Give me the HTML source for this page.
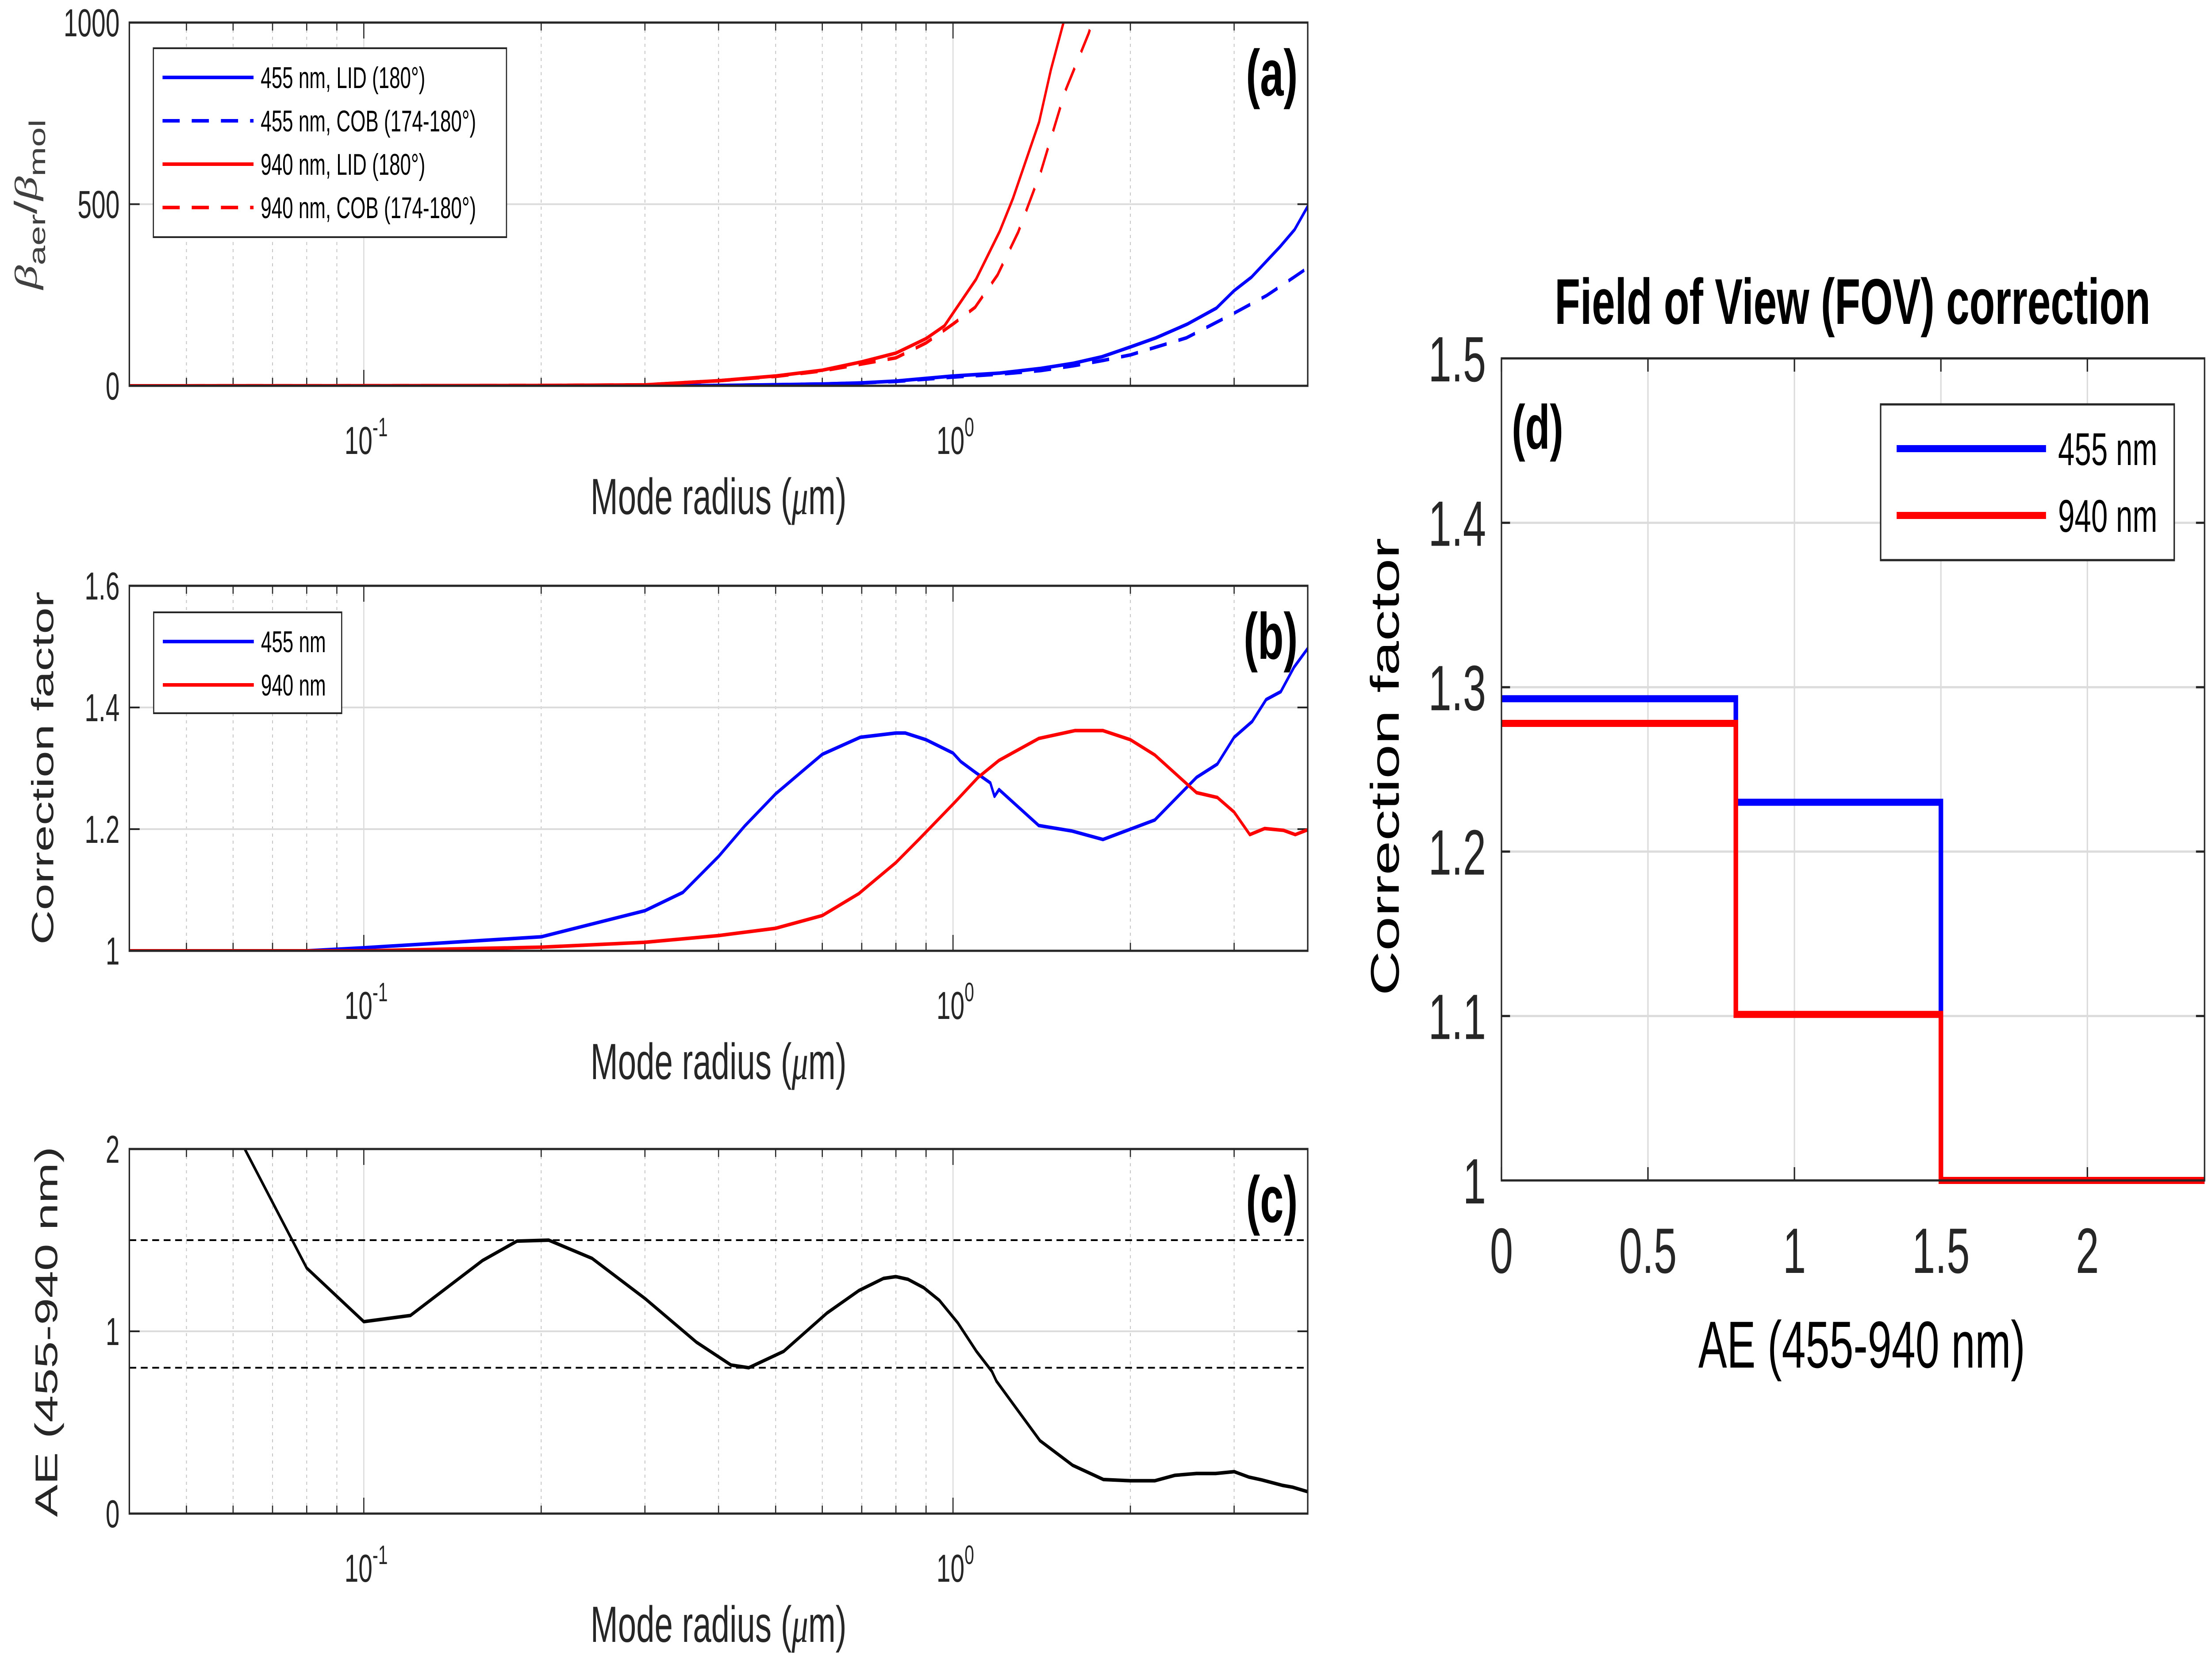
<!DOCTYPE html>
<html><head><meta charset="utf-8"><style>
html,body{margin:0;padding:0;background:#fff;width:100%;height:100%;overflow:hidden;}
svg{display:block;width:100vw;height:100vh;font-family:"Liberation Sans",Arial,sans-serif;}
</style></head><body>
<svg id="fig" xmlns="http://www.w3.org/2000/svg" viewBox="0 0 7730 3770" preserveAspectRatio="none"></svg>
<script>
// ---------- Panel (a) data ----------
const aRedLidR = [0.04,0.1,0.2,0.3,0.4,0.5,0.6,0.7,0.8,0.9,0.967,1.0,1.094,1.2,1.264,1.4,1.466,1.54,1.6];
const aRedLidV = [0,0.3,1,2.5,14,27,43,66,90,130,165,200,293,425,516,726,870,1000,1110];
const aRedCobR = [0.04,0.1,0.2,0.3,0.4,0.5,0.6,0.7,0.8,0.9,1.0,1.09,1.19,1.29,1.41,1.55,1.70,1.75];
const aRedCobV = [0,0.3,1,2.5,14,26,41,60,77,118,170,216,305,423,590,811,971,1040];
const aBlueLidR = [0.04,0.1,0.2,0.3,0.4,0.5,0.6,0.7,0.8,1.0,1.2,1.41,1.6,1.79,2.0,2.21,2.5,2.8,3.0,3.21,3.59,3.8,4.0];
const aBlueLidV = [0,0,0.2,0.5,1,3,5,8,13,27,35,48,62,80,107,132,170,214,262,299,383,430,494];
const aBlueCobR = [0.04,0.1,0.2,0.3,0.4,0.5,0.6,0.7,0.8,1.0,1.2,1.41,1.6,1.8,2.0,2.49,3.0,3.41,3.79,4.0];
const aBlueCobV = [0,0,0.2,0.5,1,3,5,8,12,24,32,42,55,70,85,132,200,249,299,325];
const aYTicks = [0,500,1000];
// ---------- Panel (b) data ----------
const bBlueR = [0.04,0.08,0.1,0.2,0.3,0.348,0.4,0.443,0.5,0.553,0.6,0.696,0.8,0.83,0.9,1.0,1.031,1.089,1.157,1.176,1.197,1.398,1.59,1.797,2.2,2.59,2.81,3.0,3.22,3.4,3.6,3.79,4.0];
const bBlueV = [1.0,1.0,1.005,1.023,1.066,1.096,1.155,1.205,1.258,1.294,1.323,1.351,1.358,1.358,1.347,1.325,1.311,1.294,1.276,1.254,1.265,1.206,1.197,1.183,1.215,1.285,1.307,1.351,1.377,1.413,1.426,1.466,1.497];
const bRedR = [0.04,0.1,0.2,0.3,0.4,0.5,0.6,0.692,0.8,0.877,1.0,1.103,1.197,1.398,1.61,1.797,2.0,2.2,2.45,2.59,2.81,3.0,3.19,3.38,3.64,3.81,4.0];
const bRedV = [1.0,1.0,1.006,1.014,1.025,1.037,1.058,1.094,1.145,1.184,1.241,1.285,1.313,1.349,1.362,1.362,1.347,1.322,1.281,1.26,1.252,1.228,1.191,1.201,1.198,1.191,1.199];
const bYTicks = [1,1.2,1.4,1.6];
// ---------- Panel (c) data ----------
const cAeR = [0.0628,0.08,0.1,0.12,0.159,0.182,0.206,0.244,0.30,0.367,0.42,0.45,0.516,0.611,0.692,0.762,0.80,0.839,0.892,0.948,1.019,1.096,1.164,1.185,1.299,1.405,1.596,1.80,2.0,2.2,2.38,2.59,2.79,3.0,3.18,3.34,3.62,3.77,4.0];
const cAeV = [2.0,1.347,1.053,1.087,1.388,1.495,1.5,1.40,1.18,0.94,0.815,0.80,0.89,1.10,1.223,1.29,1.30,1.285,1.239,1.17,1.046,0.89,0.78,0.727,0.55,0.40,0.265,0.187,0.18,0.18,0.21,0.22,0.22,0.23,0.20,0.185,0.155,0.145,0.12];
const cThresholds = [1.5,0.8];
const cYTicks = [0,1,2];
// ---------- Panel (d) data ----------
const dEdges = [0,0.8,1.5,2.4];
const dBlue = [1.293,1.230,1.0];
const dRed = [1.278,1.101,1.0];
const dXTicks = [0,0.5,1,1.5,2];
const dXTickLabels = ["0","0.5","1","1.5","2"];
const dYTicks = [1,1.1,1.2,1.3,1.4,1.5];
const dYTickLabels = ["1","1.1","1.2","1.3","1.4","1.5"];

const NS="http://www.w3.org/2000/svg";
const svg=document.getElementById('fig');
function el(tag,attrs,parent,text){
  const e=document.createElementNS(NS,tag);
  for(const k in attrs) e.setAttribute(k,attrs[k]);
  if(text!==undefined) e.textContent=text;
  (parent||svg).appendChild(e);
  return e;
}
const AX='#262626';
const L=452,R=4570;
function logX(r){return L+(Math.log10(r)-Math.log10(0.04))/(Math.log10(4)-Math.log10(0.04))*(R-L);}
function linY(top,bot,min,max){return v=>bot-(v-min)/(max-min)*(bot-top);}
function pathFrom(xs,ys,fx,fy){return xs.map((x,i)=>(i?'L':'M')+fx(x).toFixed(1)+' '+fy(ys[i]).toFixed(1)).join(' ');}

function logPanel(id,top,bot,ymin,ymax,yticks,yfmt){
  const g=el('g',{});
  
  
  const fy=linY(top,bot,ymin,ymax);
  const minors=[];
  for(const d of [0.01,0.1,1]) for(let k=2;k<=9;k++){const v=k*d; if(v>=0.04&&v<=4) minors.push(v);}
  minors.forEach(v=>{
    const x=logX(v);
    const ln=el('line',{x1:x,x2:x,y1:top,y2:bot,stroke:'#c4c4c4','stroke-width':3,'stroke-dasharray':'7 9'},g);
    
    
  });
  [0.1,1].forEach(v=>{const x=logX(v);
    const ln=el('line',{x1:x,x2:x,y1:top,y2:bot,stroke:'#dcdcdc','stroke-width':4},g);
    
    
  });
  yticks.forEach(v=>{const y=fy(v);
    const ln=el('line',{x1:L,x2:R,y1:y,y2:y,stroke:'#dcdcdc','stroke-width':4},g);
    
    
  });
  minors.forEach(v=>{const x=logX(v);
    el('line',{x1:x,x2:x,y1:bot,y2:bot-18,stroke:AX,'stroke-width':4},g);
    el('line',{x1:x,x2:x,y1:top,y2:top+18,stroke:AX,'stroke-width':4},g);});
  [0.1,1].forEach(v=>{const x=logX(v);
    el('line',{x1:x,x2:x,y1:bot,y2:bot-36,stroke:AX,'stroke-width':4},g);
    el('line',{x1:x,x2:x,y1:top,y2:top+36,stroke:AX,'stroke-width':4},g);
    const t=el('text',{x:x+8,y:bot+154,'font-size':88,fill:AX,'text-anchor':'middle'},g);
    
    
    el('tspan',{},t,'10');
    el('tspan',{dy:-40,'font-size':60},t,v===0.1?'-1':'0');
  });
  yticks.forEach(v=>{const y=fy(v);
    el('line',{x1:L,x2:L+36,y1:y,y2:y,stroke:AX,'stroke-width':4},g);
    el('line',{x1:R,x2:R-36,y1:y,y2:y,stroke:AX,'stroke-width':4},g);
    const t=el('text',{x:418,y:y+31,'font-size':88,fill:AX,'text-anchor':'end'},g,yfmt(v));
    
    
  });
  const xl=el('text',{x:(L+R)/2,y:bot+290,'font-size':115,fill:AX,'text-anchor':'middle'},g);
  
  
  el('tspan',{},xl,'Mode radius (');
  el('tspan',{'font-style':'italic','font-family':'Liberation Serif, serif'},xl,'μ');
  el('tspan',{},xl,'m)');
  const cp=el('clipPath',{id:'clip-'+id},g);
  el('rect',{x:L,y:top,width:R-L,height:bot-top},cp);
  const series=el('g',{'clip-path':'url(#clip-'+id+')'},g);
  return {g,fy,series,top,bot};
}
function box(p){
  const b=el('rect',{x:L,y:p.top,width:R-L,height:p.bot-p.top,fill:'none',stroke:AX,'stroke-width':5},p.g);
  
  
}
function label(p,txt,y){
  const t=el('text',{x:4535,y:y,'font-size':148,'font-weight':'bold',fill:'#000','text-anchor':'end'},p.g,txt);
  
  
}
function curve(p,xs,ys,color,dash,name){
  const a={d:pathFrom(xs,ys,logX,p.fy),fill:'none',stroke:color,'stroke-width':8,'stroke-linejoin':'round'};
  if(dash) a['stroke-dasharray']=dash;
  const c=el('path',a,p.series);
  
  
}
function legend(p,x,y,w,h,items){
  const lg=el('g',{},p.g);
  
  
  el('rect',{x:x,y:y,width:w,height:h,fill:'#fff',stroke:AX,'stroke-width':4},lg);
  items.forEach((it,i)=>{
    const yy=y+66+i*98;
    const ln=el('line',{x1:x+32,x2:x+350,y1:yy,y2:yy,stroke:it.c,'stroke-width':8},lg);
    if(it.d) ln.setAttribute('stroke-dasharray',it.d);
    
    
    const t=el('text',{x:x+375,y:yy+24,'font-size':68,fill:'#000'},lg,it.t);
    
    
  });
}

const pa=logPanel('a',51,872,0,1000,aYTicks,v=>String(v));
curve(pa,aBlueLidR,aBlueLidV,'#0000ff',null,'line-455-lid');
curve(pa,aBlueCobR,aBlueCobV,'#0000ff','60 42','line-455-cob');
curve(pa,aRedLidR,aRedLidV,'#ff0000',null,'line-940-lid');
curve(pa,aRedCobR,aRedCobV,'#ff0000','60 42','line-940-cob');
box(pa);
legend(pa,536,109,1234,427,[{c:'#0000ff',t:'455 nm, LID (180°)'},{c:'#0000ff',d:'60 42',t:'455 nm, COB (174-180°)'},{c:'#ff0000',t:'940 nm, LID (180°)'},{c:'#ff0000',d:'60 42',t:'940 nm, COB (174-180°)'}]);
label(pa,'(a)',216);
const ya=el('text',{transform:'translate(128,462) rotate(-90)','font-size':110,fill:'#404040','text-anchor':'middle'});


el('tspan',{'font-style':'italic','font-family':'Liberation Serif, serif'},ya,'β');
el('tspan',{dy:30,'font-size':80},ya,'aer');
el('tspan',{dy:-30},ya,'/');
el('tspan',{'font-style':'italic','font-family':'Liberation Serif, serif'},ya,'β');
el('tspan',{dy:30,'font-size':80},ya,'mol');

const pb=logPanel('b',1324,2149,1,1.6,bYTicks,v=>v===1?'1':v.toFixed(1));
curve(pb,bBlueR,bBlueV,'#0000ff',null,'line-455');
curve(pb,bRedR,bRedV,'#ff0000',null,'line-940');
box(pb);
legend(pb,537,1384,657,228,[{c:'#0000ff',t:'455 nm'},{c:'#ff0000',t:'940 nm'}]);
label(pb,'(b)',1489);
const yb=el('text',{transform:'translate(186,1736) rotate(-90)','font-size':108,fill:AX,'text-anchor':'middle'},null,'Correction factor');



const pc=logPanel('c',2597,3421,0,2,cYTicks,v=>String(v));
cThresholds.forEach(v=>{
  const y=pc.fy(v);
  const t=el('line',{x1:L,x2:R,y1:y,y2:y,stroke:'#000','stroke-width':4,'stroke-dasharray':'24 16'},pc.series);
  
  
});
curve(pc,cAeR,cAeV,'#000000',null,'line-ae');
box(pc);
label(pc,'(c)',2762);
const yc=el('text',{transform:'translate(200,3010) rotate(-90)','font-size':110,fill:AX,'text-anchor':'middle'},null,'AE (455-940 nm)');



(function(){
  const DL=5247,DR=7704,DT=810,DB=2668;
  const fx=v=>DL+(v-0)/(2.4-0)*(DR-DL);
  const fy=linY(DT,DB,1,1.5);
  const g=el('g',{});
  
  
  dXTicks.forEach((v,i)=>{const x=fx(v);
    el('line',{x1:x,x2:x,y1:DT,y2:DB,stroke:'#dcdcdc','stroke-width':5},g);
    el('line',{x1:x,x2:x,y1:DB,y2:DB-30,stroke:AX,'stroke-width':5},g);
    el('line',{x1:x,x2:x,y1:DT,y2:DT+30,stroke:AX,'stroke-width':5},g);
    const t=el('text',{x:x,y:2877,'font-size':145,fill:AX,'text-anchor':'middle'},g,dXTickLabels[i]);
    
    
  });
  dYTicks.forEach((v,i)=>{const y=fy(v);
    el('line',{x1:DL,x2:DR,y1:y,y2:y,stroke:'#dcdcdc','stroke-width':5},g);
    el('line',{x1:DL,x2:DL+30,y1:y,y2:y,stroke:AX,'stroke-width':5},g);
    el('line',{x1:DR,x2:DR-30,y1:y,y2:y,stroke:AX,'stroke-width':5},g);
    const t=el('text',{x:5193,y:y+52,'font-size':145,fill:AX,'text-anchor':'end'},g,dYTickLabels[i]);
    
    
  });
  function stairs(vals,color,name){
    let d='';
    vals.forEach((v,i)=>{
      d+=(i?'L':'M')+fx(dEdges[i]).toFixed(1)+' '+fy(v).toFixed(1)+' L'+fx(dEdges[i+1]).toFixed(1)+' '+fy(v).toFixed(1)+' ';
    });
    const p=el('path',{d:d,fill:'none',stroke:color,'stroke-width':16,'stroke-linejoin':'miter'},g);
    
    
  }
  stairs(dBlue,'#0000ff','step-455');
  stairs(dRed,'#ff0000','step-940');
  const b=el('rect',{x:DL,y:DT,width:DR-DL,height:DB-DT,fill:'none',stroke:AX,'stroke-width':5},g);
  
  
  const lg=el('g',{},g);
  
  
  el('rect',{x:6572,y:914,width:1026,height:352,fill:'#fff',stroke:AX,'stroke-width':5},lg);
  [['#0000ff','455 nm',1014],['#ff0000','940 nm',1165]].forEach(it=>{
    const ln=el('line',{x1:6628,x2:7150,y1:it[2],y2:it[2],stroke:it[0],'stroke-width':16},lg);
    
    
    const t=el('text',{x:7192,y:it[2]+37,'font-size':104,fill:'#000'},lg,it[1]);
    
    
  });
  const dl=el('text',{x:5283,y:1014,'font-size':141,'font-weight':'bold',fill:'#000'},g,'(d)');
  
  
  const tt=el('text',{x:6474,y:732,'font-size':146,'font-weight':'bold',fill:'#000','text-anchor':'middle'},g,'Field of View (FOV) correction');
  
  
  const yl=el('text',{transform:'translate(4888,1733) rotate(-90)','font-size':140,fill:'#000','text-anchor':'middle'},g,'Correction factor');
  
  
  const xl=el('text',{x:6506,y:3091,'font-size':150,fill:'#000','text-anchor':'middle'},g,'AE (455-940 nm)');
  
  
})();
</script>
</body></html>
